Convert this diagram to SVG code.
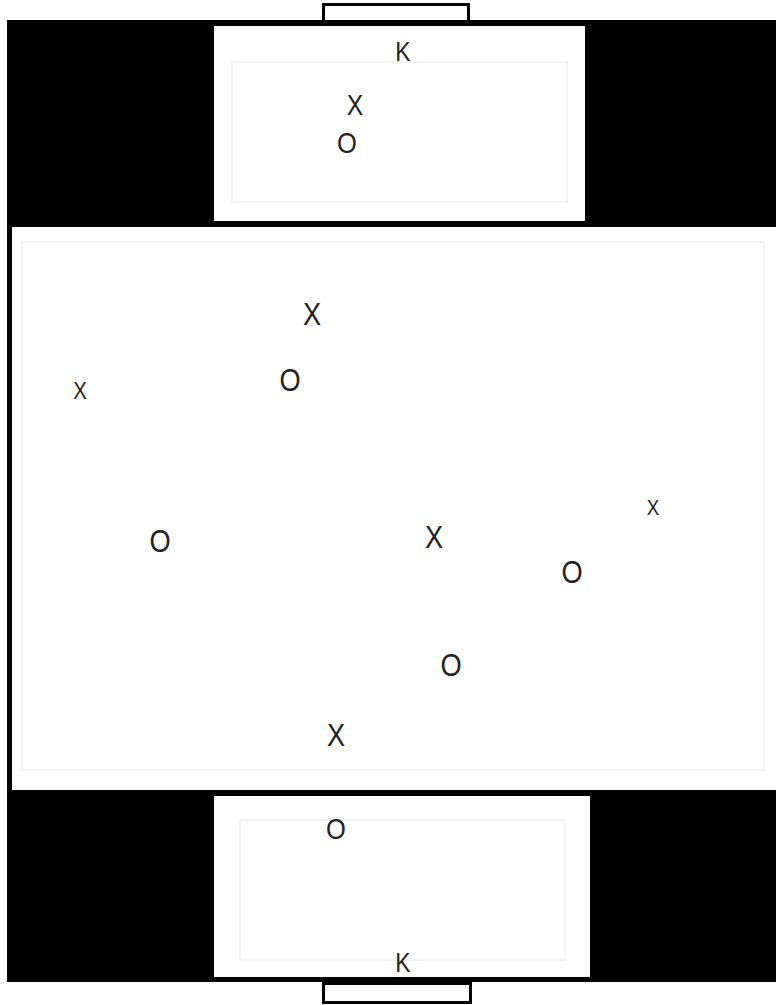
<svg xmlns="http://www.w3.org/2000/svg" width="776" height="1005" viewBox="0 0 776 1005">
  <style>
    .lbl { font-family: "Liberation Sans", Arial, sans-serif; fill: #222222; text-anchor: middle; }
    .goal { fill: #ffffff; stroke: #000000; stroke-width: 3; }
    .faint { fill: none; stroke: #f3f3f3; stroke-width: 2; }
  </style>
  <rect x="0" y="0" width="776" height="1005" fill="#ffffff"/>
  <g id="field">
    <rect x="7" y="20" width="769" height="207" fill="#000000"/>
    <rect x="7" y="790" width="769" height="192" fill="#000000"/>
    <rect x="7" y="227" width="5" height="563" fill="#000000"/>
    <rect x="12" y="228" width="764" height="562" fill="#ffffff"/>
    <rect class="faint" x="22" y="242" width="742" height="528"/>
    <rect x="214" y="26" width="371" height="195" fill="#ffffff"/>
    <rect class="faint" x="232" y="62" width="335" height="140"/>
    <rect x="214" y="796" width="376" height="181" fill="#ffffff"/>
    <rect class="faint" x="240" y="820" width="325" height="140"/>
    <rect class="goal" x="323.5" y="4.5" width="145" height="17"/>
    <rect class="goal" x="323.5" y="983.5" width="147" height="19"/>
  </g>
  <g id="connectors"></g>
  <g id="k-top" transform="translate(403,60.7) scale(0.85,1)"><text class="lbl" x="0" y="0" font-size="27">K</text></g>
  <g id="x-top" transform="translate(355,115.4) scale(0.85,1)"><text class="lbl" x="0" y="0" font-size="29">X</text></g>
  <g id="o-top" transform="translate(347,152.7) scale(0.85,1)"><text class="lbl" x="0" y="0" font-size="30">O</text></g>
  <g id="x-1" transform="translate(312,324.5) scale(0.85,1)"><text class="lbl" x="0" y="0" font-size="32">X</text></g>
  <g id="o-1" transform="translate(290,390.5) scale(0.85,1)"><text class="lbl" x="0" y="0" font-size="32">O</text></g>
  <g id="x-2" transform="translate(80,398.6) scale(0.85,1)"><text class="lbl" x="0" y="0" font-size="24">X</text></g>
  <g id="o-2" transform="translate(160,551.5) scale(0.85,1)"><text class="lbl" x="0" y="0" font-size="32">O</text></g>
  <g id="x-3" transform="translate(434,547.5) scale(0.85,1)"><text class="lbl" x="0" y="0" font-size="32">X</text></g>
  <g id="x-4" transform="translate(653,515) scale(0.85,1)"><text class="lbl" x="0" y="0" font-size="22">X</text></g>
  <g id="o-3" transform="translate(572,582.5) scale(0.85,1)"><text class="lbl" x="0" y="0" font-size="32">O</text></g>
  <g id="o-4" transform="translate(451,675.5) scale(0.85,1)"><text class="lbl" x="0" y="0" font-size="32">O</text></g>
  <g id="x-5" transform="translate(336,745.5) scale(0.85,1)"><text class="lbl" x="0" y="0" font-size="32">X</text></g>
  <g id="o-bottom" transform="translate(336,838.7) scale(0.85,1)"><text class="lbl" x="0" y="0" font-size="30">O</text></g>
  <g id="k-bottom" transform="translate(403,971.7) scale(0.85,1)"><text class="lbl" x="0" y="0" font-size="27">K</text></g>
</svg>
